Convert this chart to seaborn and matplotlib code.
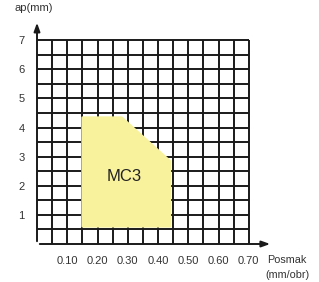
import numpy as np
import matplotlib
matplotlib.use("Agg")
import matplotlib.pyplot as plt
import seaborn as sns

# feed (mm/rev) and depth of cut (mm) outline of the MC3 working area
region_x = [0.15, 0.15, 0.28, 0.44, 0.44]
region_y = [0.60, 4.35, 4.35, 2.85, 0.60]
region_label = "MC3"

x_ticks = [0.10, 0.20, 0.30, 0.40, 0.50, 0.60, 0.70]
y_ticks = [1, 2, 3, 4, 5, 6, 7]

sns.set_style("white")
plt.rcParams["font.family"] = ["Liberation Sans", "DejaVu Sans"]

fig = plt.figure(figsize=(3.19, 2.82), dpi=100)
ax = fig.add_axes([37 / 319, 38 / 282, 242 / 319, 227 / 282])
ax.set_xlim(0, 0.80)
ax.set_ylim(0, 7.8)

# grid
gx = np.arange(0.05, 0.7001, 0.05)
gy = np.arange(0.5, 7.001, 0.5)
ax.vlines(gx, 0, 7, color="#1a1a1a", lw=1.4, zorder=1)
ax.hlines(gy, 0, 0.70, color="#1a1a1a", lw=1.4, zorder=1)

# working region
ax.fill(region_x, region_y, color="#f8f29c", lw=1.5, ec="#f8f29c",
        joinstyle="round", zorder=2)
ax.text(0.287, 2.33, region_label, fontsize=12, color="#222222",
        ha="center", va="center", zorder=3)

# axes with arrows
arrow = dict(arrowstyle="-|>,head_length=0.5,head_width=0.18", color="#1a1a1a", lw=1.4)
ax.annotate("", xy=(0.78, 0), xytext=(0, 0), arrowprops=arrow, zorder=4)
ax.annotate("", xy=(0, 7.7), xytext=(0, 0), arrowprops=arrow, zorder=4)

sns.despine(ax=ax, left=True, bottom=True)
ax.set_xticks(x_ticks)
ax.set_xticklabels([f"{v:.2f}" for v in x_ticks])
ax.set_yticks(y_ticks)
ax.tick_params(axis="both", length=3, width=1, color="#1a1a1a",
               labelsize=8, labelcolor="#333333")
ax.tick_params(axis="x", pad=6)
ax.tick_params(axis="y", pad=6)

fig.text(34 / 319, 1 - 8 / 282, "ap(mm)", fontsize=8, color="#333333",
         ha="center", va="center")
fig.text(267 / 319, 1 - 260 / 282, "Posmak", fontsize=7.8, color="#333333",
         ha="left", va="center")
fig.text(309 / 319, 1 - 275 / 282, "(mm/obr)", fontsize=7.8, color="#333333",
         ha="right", va="center")

fig.savefig("out.png", dpi=100)
